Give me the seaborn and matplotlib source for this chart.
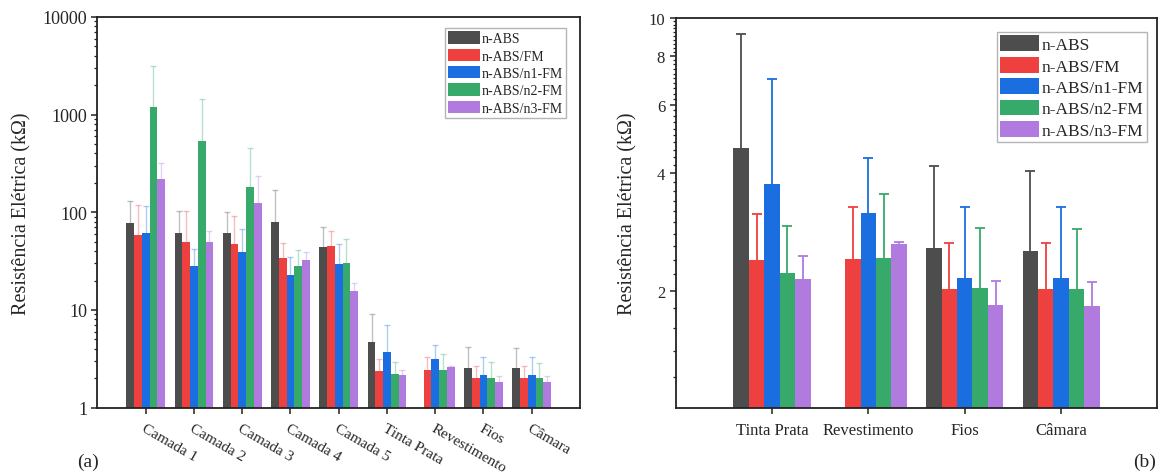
import numpy as np
import pandas as pd
import matplotlib
matplotlib.use("Agg")
import matplotlib.pyplot as plt
import matplotlib.ticker as mticker
from matplotlib.patches import Patch
from matplotlib.container import BarContainer
import seaborn as sns

# ---------------- data ----------------
categories = ["Camada 1", "Camada 2", "Camada 3", "Camada 4", "Camada 5",
              "Tinta Prata", "Revestimento", "Fios", "Câmara"]
series = ["n-ABS", "n-ABS/FM", "n-ABS/n1-FM", "n-ABS/n2-FM", "n-ABS/n3-FM"]

nabs_val   = [77, 61, 62, 80, 43.8, 4.65, np.nan, 2.57, 2.52]
nabs_err   = [55, 41, 38, 88, 26.9, 4.43, np.nan, 1.61, 1.53]
fm_val     = [59, 50, 47, 34, 45, 2.39, 2.41, 2.02, 2.02]
fm_err     = [61, 54, 44, 15, 20, 0.75, 0.86, 0.63, 0.63]
n1_val     = [62, 28, 39, 22.6, 29.3, 3.75, 3.17, 2.16, 2.16]
n1_err     = [54, 14, 28, 11.9, 17.7, 3.23, 1.21, 1.11, 1.11]
n2_val     = [1186, 543, 183, 28.4, 30.2, 2.22, 2.42, 2.03, 2.02]
n2_err     = [1979, 899, 274, 12.6, 22.8, 0.71, 1.11, 0.87, 0.85]
n3_val     = [221, 50, 124, 32.4, 15.6, 2.14, 2.63, 1.84, 1.83]
n3_err     = [102, 15, 114, 6.5, 3.1, 0.31, 0.03, 0.28, 0.28]

right_categories = ["Tinta Prata", "Revestimento", "Fios", "Câmara"]

colors = ["#4d4d4d", "#ef4040", "#1a6ee0", "#37aa6b", "#b07ade"]

values = [nabs_val, fm_val, n1_val, n2_val, n3_val]
errors = [nabs_err, fm_err, n1_err, n2_err, n3_err]

rows = []
for s, vals in zip(series, values):
    for c, v in zip(categories, vals):
        rows.append({"cat": c, "series": s, "val": v})
df = pd.DataFrame(rows)

err_lookup = {(s, c): e for s, errs in zip(series, errors)
              for c, e in zip(categories, errs)}

# ---------------- style ----------------
sns.set_style("ticks")
plt.rcParams["font.family"] = ["Liberation Serif", "DejaVu Serif"]
plt.rcParams["mathtext.fontset"] = "stix"

fig = plt.figure(figsize=(11.59, 4.77), dpi=100)
axL = fig.add_axes([0.0841, 0.1434, 0.4163, 0.8189])
axR = fig.add_axes([0.5829, 0.1426, 0.4158, 0.8176])


def draw(ax, cats, err_alpha, err_lw, capw, leg_fs, leg_anchor, hl, hh, lsp,
         ytick_fs):
    sub = df[df["cat"].isin(cats)]
    ax.set_yscale("log")
    sns.barplot(data=sub, x="cat", y="val", hue="series", order=cats,
                hue_order=series, palette=colors, saturation=1, width=0.8,
                errorbar=None, ax=ax, legend=False, linewidth=0)
    bar_conts = [c for c in ax.containers if isinstance(c, BarContainer)]
    for i, cont in enumerate(bar_conts):
        xs, ys, es = [], [], []
        for bar in cont:
            h = bar.get_height()
            if not np.isfinite(h) or h <= 0:
                continue
            xc = bar.get_x() + bar.get_width() / 2
            cat = cats[int(round(xc))]
            e = err_lookup[(series[i], cat)]
            if not np.isfinite(e):
                continue
            xs.append(xc); ys.append(h); es.append(e)
        if xs:
            xs = np.array(xs); ys = np.array(ys); es = np.array(es)
            ax.errorbar(xs, ys, yerr=[np.zeros(len(es)), es], fmt="none",
                        ecolor=colors[i], alpha=err_alpha, elinewidth=err_lw,
                        capsize=0, zorder=1)
            ax.plot(xs, ys + es, linestyle="none", marker="_",
                    markersize=capw, markeredgewidth=err_lw,
                    color=colors[i], alpha=err_alpha, zorder=1)
    ax.set_xlim(-1, len(cats))
    ax.set_xlabel("")
    ax.set_ylabel("Resistência Elétrica (kΩ)", fontsize=14.5, labelpad=8)
    for sp in ax.spines.values():
        sp.set_visible(True)
        sp.set_linewidth(1.3)
        sp.set_color("#222222")
    ax.tick_params(axis="both", which="major", direction="out", length=4,
                   width=1.1, labelsize=12, color="#222222")
    ax.tick_params(axis="y", which="major", labelsize=ytick_fs)
    ax.tick_params(axis="y", which="minor", direction="out", length=2.2,
                   width=0.9, color="#222222")
    ax.tick_params(axis="x", which="minor", bottom=False)
    handles = [Patch(facecolor=c, edgecolor="none") for c in colors]
    ax.legend(handles, series, loc="upper right", bbox_to_anchor=leg_anchor,
              fontsize=leg_fs, frameon=True, fancybox=False, framealpha=1,
              edgecolor="#b5b5b5", borderpad=0.2, labelspacing=lsp,
              handlelength=hl, handleheight=hh, handletextpad=0.15,
              borderaxespad=0)


# left panel
draw(axL, categories, 0.35, 1.0, 5, 10, (0.971, 0.971), 2.3, 1.0, 0.25, 13)
axL.set_ylim(1, 10000)
axL.yaxis.set_major_locator(mticker.LogLocator(base=10, numticks=10))
axL.yaxis.set_minor_locator(mticker.LogLocator(base=10, subs=np.arange(2, 10), numticks=50))
axL.yaxis.set_major_formatter(mticker.FuncFormatter(lambda v, p: f"{v:.0f}"))
axL.yaxis.set_minor_formatter(mticker.NullFormatter())
for lab in axL.get_xticklabels():
    lab.set_rotation(-30)
    lab.set_ha("left")
    lab.set_va("top")
    lab.set_rotation_mode("anchor")
    lab.set_fontsize(11)
axL.tick_params(axis="x", pad=6)

# right panel
draw(axR, right_categories, 1.0, 1.3, 6.5, 12.5, (0.978, 0.964), 2.24, 1.03,
     0.2, 12)
axR.set_ylim(1, 10)
axR.yaxis.set_major_locator(mticker.FixedLocator([2, 4, 6, 8, 10]))
axR.yaxis.set_minor_locator(mticker.FixedLocator(
    [t for t in np.round(np.arange(1.2, 10.0, 0.2), 1) if t not in (2, 4, 6, 8)]))
axR.yaxis.set_major_formatter(mticker.FuncFormatter(lambda v, p: f"{v:.0f}"))
axR.yaxis.set_minor_formatter(mticker.NullFormatter())
axR.tick_params(axis="x", pad=6)

fig.text(88 / 1159, 1 - 462 / 477, "(a)", fontsize=14, ha="center", va="center")
fig.text(1145 / 1159, 1 - 462 / 477, "(b)", fontsize=14, ha="center", va="center")

fig.savefig("out.png", dpi=100)
